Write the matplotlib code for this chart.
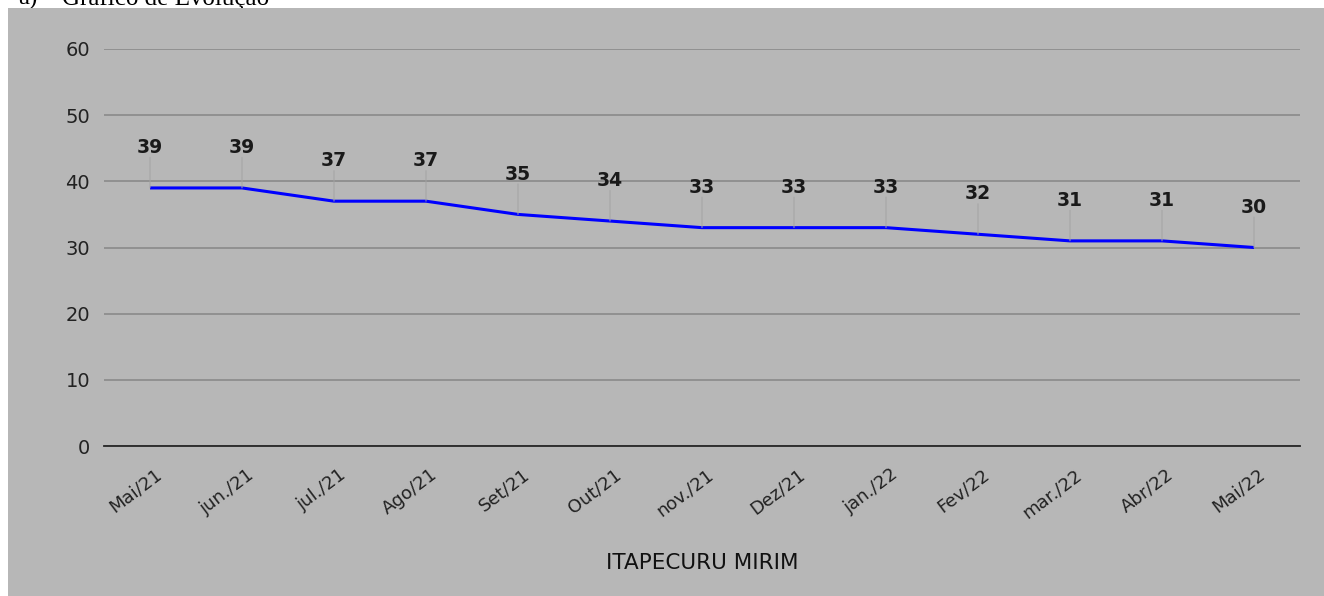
import matplotlib.pyplot as plt
from matplotlib.patches import Rectangle
from matplotlib.transforms import ScaledTranslation

months = ['Mai/21', 'jun./21', 'jul./21', 'Ago/21', 'Set/21', 'Out/21', 'nov./21',
          'Dez/21', 'jan./22', 'Fev/22', 'mar./22', 'Abr/22', 'Mai/22']
values = [39, 39, 37, 37, 35, 34, 33, 33, 33, 32, 31, 31, 30]
y_ticks = [0, 10, 20, 30, 40, 50, 60]

plt.rcParams['font.family'] = ['DejaVu Sans']

W, H = 1324, 596
fig = plt.figure(figsize=(W / 100, H / 100), dpi=100)
fig.patch.set_facecolor('white')

# gray chart area (white strip at top and left)
fig.patches.append(Rectangle((8 / W, 0), 1 - 8 / W, 1 - 8 / H, transform=fig.transFigure,
                             facecolor='#b7b7b7', edgecolor='none', zorder=-5))

# caption above, cut off by the page edge
fig.text(18 / W, 1 - 5 / H, 'a)', family='Liberation Serif',
         fontsize=18, va='baseline', ha='left', color='black', zorder=-6)
fig.text(62 / W, 1 - 5 / H, 'Gráfico de Evolução', family='Liberation Serif',
         fontsize=18, va='baseline', ha='left', color='black', zorder=-6)

ax = fig.add_axes([104 / W, 1 - 446 / H, (1300 - 104) / W, (446 - 49) / H])
ax.set_facecolor('none')

x = list(range(len(months)))
ax.plot(x, values, color='#0000ff', lw=2.2, zorder=3, solid_capstyle='butt')

# value labels with small leader lines
for xi, v in zip(x, values):
    ax.annotate(str(v), xy=(xi, v), xytext=(0, 29), textcoords='offset points',
                ha='center', va='center', fontsize=13.5, fontweight='bold', color='#1a1a1a',
                arrowprops=dict(arrowstyle='-', color='#a3a3a3', lw=0.7,
                                shrinkA=7, shrinkB=0, patchA=None),
                zorder=4)

ax.set_xlim(-0.5, len(months) - 0.5)
ax.set_ylim(0, 60)
ax.set_yticks(y_ticks)
ax.yaxis.grid(True, color='#8a8a8a', lw=1.2)
ax.set_axisbelow(True)
for s in ['top', 'right', 'left']:
    ax.spines[s].set_visible(False)
ax.spines['bottom'].set_color('#262626')
ax.spines['bottom'].set_linewidth(1.3)
ax.spines['bottom'].set_zorder(2)
ax.tick_params(axis='y', length=0, pad=10, labelsize=14, labelcolor='#222222')
ax.tick_params(axis='x', length=0, pad=14, labelsize=13, labelcolor='#222222')
ax.set_xticks(x)
ax.set_xticklabels(months, rotation=37, ha='right', rotation_mode='anchor')
for lab in ax.get_xticklabels():
    lab.set_transform(lab.get_transform() + ScaledTranslation(4 / 100, 0, fig.dpi_scale_trans))

ax.set_xlabel('ITAPECURU MIRIM', fontsize=15.5, color='#111111', va='center')
ax.xaxis.set_label_coords(0.5, -(563 - 446) / (446 - 49))

fig.savefig('out.png', dpi=100, facecolor=fig.get_facecolor())
